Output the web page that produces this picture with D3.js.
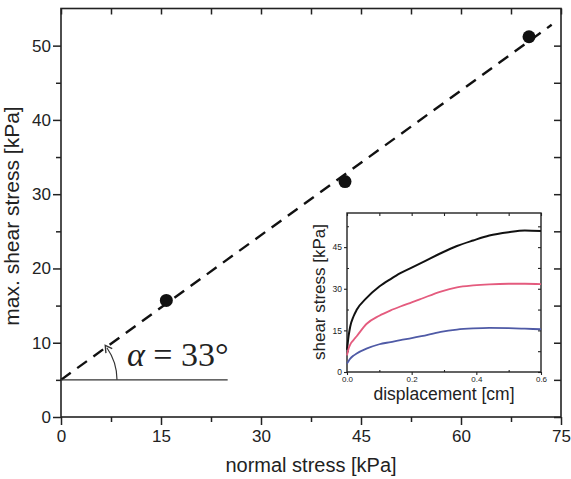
<!DOCTYPE html>
<html>
<head>
<meta charset="utf-8">
<script src="https://cdn.jsdelivr.net/npm/d3@7"></script>
<style>
  body { margin: 0; background: #fff; }
  text { font-family: "Liberation Sans", Arial, sans-serif; fill: #222; }
</style>
</head>
<body>
<div id="chart"></div>
<script>
// main plot: peak shear stress vs normal stress
const xTicks = [0, 15, 30, 45, 60, 75];
const yTicks = [0, 10, 20, 30, 40, 50];
const normalStress = [15.8, 42.6, 70.2];
const maxShear = [15.7, 31.7, 51.2];
const fitLine = [[0, 5], [73.6, 52.8]];
const baseLine = [[0, 5], [25, 5]];
const angleLabel = "33°";

// inset: shear stress vs displacement
const displacement = [0, 0.005, 0.01, 0.02, 0.03, 0.06, 0.1, 0.135, 0.165, 0.2, 0.23, 0.29, 0.34, 0.39, 0.44, 0.5, 0.55, 0.6];
const shearHigh = [8, 13, 16.4, 20, 22.4, 26.6, 30.8, 33.5, 35.6, 37.6, 39.3, 42.8, 45.4, 47.4, 49.2, 50.4, 51, 50.8];
const shearMid = [6, 8.5, 9.9, 11.5, 12.9, 17.3, 20.3, 22.2, 23.6, 25.1, 26.4, 29, 30.5, 31.2, 31.6, 31.8, 31.8, 31.7];
const shearLow = [3, 4, 4.8, 5.9, 6.7, 8.4, 10.0, 10.8, 11.5, 12.2, 12.9, 14.5, 15.3, 15.7, 15.9, 15.8, 15.6, 15.4];
const insetXTicks = [0, 0.2, 0.4, 0.6];
const insetYTicks = [0, 15, 30, 45];
const insetColors = ["#111", "#e45b7e", "#4f5aa6"];

const W = 571, H = 479;
const svg = d3.select("#chart").append("svg")
  .attr("width", W).attr("height", H);

const x = d3.scaleLinear().domain([0, 75]).range([61, 561]);
const y = d3.scaleLinear().domain([0, 55]).range([417, 8.5]);

// frame
svg.append("rect")
  .attr("x", x(0)).attr("y", y(55))
  .attr("width", x(75) - x(0)).attr("height", y(0) - y(55))
  .attr("fill", "none").attr("stroke", "#222").attr("stroke-width", 1.6);

const minorX = d3.range(7.5, 75, 15);
const minorY = d3.range(5, 55, 10);

function styleAxis(g) {
  g.select(".domain").remove();
  g.selectAll("line").attr("stroke", "#222").attr("stroke-width", 1.5);
}

svg.append("g").attr("transform", `translate(0,${y(0)})`)
  .call(d3.axisBottom(x).tickValues(xTicks).tickSize(8).tickPadding(5))
  .call(styleAxis)
  .call(g => g.selectAll("text").style("font-size", "17px"));
svg.append("g").attr("transform", `translate(0,${y(0)})`)
  .call(d3.axisBottom(x).tickValues(minorX).tickSize(5).tickFormat(""))
  .call(styleAxis);
svg.append("g").attr("transform", `translate(${x(0)},0)`)
  .call(d3.axisLeft(y).tickValues(yTicks).tickSize(8).tickPadding(2))
  .call(styleAxis)
  .call(g => g.selectAll("text").style("font-size", "17px"));
svg.append("g").attr("transform", `translate(${x(0)},0)`)
  .call(d3.axisLeft(y).tickValues(minorY).tickSize(5).tickFormat(""))
  .call(styleAxis);
// inward ticks on top and right
svg.append("g").attr("transform", `translate(0,${y(55)})`)
  .call(d3.axisBottom(x).tickValues(xTicks.concat(minorX)).tickSize(6).tickFormat(""))
  .call(styleAxis);
svg.append("g").attr("transform", `translate(${x(75)},0)`)
  .call(d3.axisLeft(y).tickValues(yTicks.concat(minorY)).tickSize(7).tickFormat(""))
  .call(styleAxis);

svg.append("text")
  .attr("x", (x(0) + x(75)) / 2).attr("y", 472)
  .attr("text-anchor", "middle").style("font-size", "20px")
  .text("normal stress [kPa]");
svg.append("text")
  .attr("transform", "translate(19,216) rotate(-90)")
  .attr("text-anchor", "middle").style("font-size", "21px")
  .text("max. shear stress [kPa]");

// fitted failure envelope
const line = d3.line().x(d => x(d[0])).y(d => y(d[1]));
svg.append("path").datum(fitLine)
  .attr("d", line).attr("fill", "none")
  .attr("stroke", "#111").attr("stroke-width", 2.4)
  .attr("stroke-dasharray", "12,8");
svg.append("path").datum(baseLine)
  .attr("d", line).attr("fill", "none")
  .attr("stroke", "#333").attr("stroke-width", 1.2);

// angle arc with arrow
svg.append("defs").append("marker")
  .attr("id", "arr").attr("viewBox", "0 0 10 10")
  .attr("refX", 5).attr("refY", 5)
  .attr("markerWidth", 8).attr("markerHeight", 8)
  .attr("orient", "auto")
  .append("path").attr("d", "M1,1 L8,5 L1,9").attr("fill", "none")
  .attr("stroke", "#333").attr("stroke-width", 1.4);

const cx = x(0), cy = y(5), r = 56;
const a = 35 * Math.PI / 180;
svg.append("path")
  .attr("d", `M${cx + r},${cy} A${r},${r} 0 0 0 ${cx + r * Math.cos(a)},${cy - r * Math.sin(a)}`)
  .attr("fill", "none").attr("stroke", "#333").attr("stroke-width", 1.2)
  .attr("marker-end", "url(#arr)");

const lab = svg.append("text")
  .attr("x", 127).attr("y", 366)
  .style("font-family", "'Liberation Serif', 'Times New Roman', serif")
  .style("font-size", "34px");
lab.append("tspan").style("font-style", "italic").text("α");
lab.append("tspan").text(" = " + angleLabel);

// data points
svg.selectAll(".dot")
  .data(normalStress.map((v, i) => [v, maxShear[i]]))
  .enter().append("circle")
  .attr("cx", d => x(d[0])).attr("cy", d => y(d[1]))
  .attr("r", 6.5).attr("fill", "#111");

// inset
const ix = d3.scaleLinear().domain([0, 0.6]).range([347, 541]);
const iy = d3.scaleLinear().domain([0, 57.3]).range([372, 213]);
const inset = svg.append("g");
inset.append("rect")
  .attr("x", ix(0)).attr("y", iy(57.3))
  .attr("width", ix(0.6) - ix(0)).attr("height", iy(0) - iy(57.3))
  .attr("fill", "#fff").attr("stroke", "#222").attr("stroke-width", 1.4);

const iMinorX = [0.1, 0.3, 0.5];
const iMinorY = [7.5, 22.5, 37.5, 52.5];
function styleInset(g) {
  g.select(".domain").remove();
  g.selectAll("line").attr("stroke", "#222").attr("stroke-width", 1.1);
}
inset.append("g").attr("transform", `translate(0,${iy(0)})`)
  .call(d3.axisBottom(ix).tickValues(insetXTicks).tickSize(3).tickPadding(1).tickFormat(d3.format(".1f")))
  .call(styleInset)
  .call(g => g.selectAll("text").style("font-size", "8px"));
inset.append("g").attr("transform", `translate(${ix(0)},0)`)
  .call(d3.axisLeft(iy).tickValues(insetYTicks).tickSize(3).tickPadding(2))
  .call(styleInset)
  .call(g => g.selectAll("text").style("font-size", "8.5px"));
inset.append("g").attr("transform", `translate(0,${iy(57.3)})`)
  .call(d3.axisBottom(ix).tickValues(insetXTicks.concat(iMinorX)).tickSize(3).tickFormat(""))
  .call(styleInset);
inset.append("g").attr("transform", `translate(${ix(0.6)},0)`)
  .call(d3.axisLeft(iy).tickValues(insetYTicks.concat(iMinorY)).tickSize(3).tickFormat(""))
  .call(styleInset);
inset.append("g").attr("transform", `translate(${ix(0)},0)`)
  .call(d3.axisRight(iy).tickValues(iMinorY).tickSize(2).tickFormat(""))
  .call(styleInset);
inset.append("g").attr("transform", `translate(0,${iy(0)})`)
  .call(d3.axisTop(ix).tickValues(iMinorX).tickSize(2).tickFormat(""))
  .call(styleInset);

inset.append("text")
  .attr("x", (ix(0) + ix(0.6)) / 2).attr("y", 400)
  .attr("text-anchor", "middle").style("font-size", "17.5px")
  .text("displacement [cm]");
inset.append("text")
  .attr("transform", "translate(325,292) rotate(-90)")
  .attr("text-anchor", "middle").style("font-size", "17px")
  .text("shear stress [kPa]");

const iLine = d3.line().curve(d3.curveMonotoneX)
  .x((d, i) => ix(displacement[i])).y(d => iy(d));
[shearHigh, shearMid, shearLow].forEach((s, k) => {
  inset.append("path").datum(s)
    .attr("d", iLine).attr("fill", "none")
    .attr("stroke", insetColors[k]).attr("stroke-width", k === 0 ? 2 : 1.8);
});
</script>
</body>
</html>
